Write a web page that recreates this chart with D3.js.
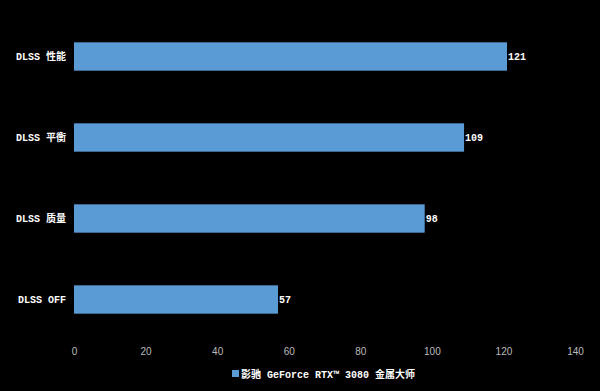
<!DOCTYPE html>
<html><head><meta charset="utf-8">
<script src="https://cdn.jsdelivr.net/npm/d3@7"></script>
<style>html,body{margin:0;padding:0;background:#000;}svg{display:block;}</style>
</head><body>
<svg id="c" width="600" height="391"></svg>
<script>
const categories = ["DLSS 性能", "DLSS 平衡", "DLSS 质量", "DLSS OFF"];
const values = [121, 109, 98, 57];
const xTicks = [0, 20, 40, 60, 80, 100, 120, 140];
const seriesName = "影驰 GeForce RTX™ 3080 金属大师";

const svg = d3.select("#c");
svg.append("rect").attr("width",600).attr("height",391).attr("fill","#000");
const x = d3.scaleLinear().domain([0,140]).range([74,575]);
const y = d3.scaleBand().domain(categories).range([16,340]).paddingInner(0.65).paddingOuter(0.325);
const color = "#5b9bd5";
const font = "'Liberation Mono', 'Noto Sans CJK SC', monospace";

svg.selectAll("rect.bar").data(values).enter().append("rect")
  .attr("class","bar")
  .attr("x", x(0))
  .attr("y", (d,i)=>y(categories[i]))
  .attr("width", d=>x(d)-x(0))
  .attr("height", y.bandwidth())
  .attr("fill", color);

svg.selectAll("text.val").data(values).enter().append("text")
  .attr("x", d=>x(d)+1)
  .attr("y", (d,i)=>y(categories[i])+y.bandwidth()/2)
  .attr("dy","0.35em")
  .attr("fill","#fff").attr("font-family",font).attr("font-weight","bold").attr("font-size",10)
  .text(d=>d);

const yAxis = d3.axisLeft(y).tickSize(0).tickPadding(8);
const ga = svg.append("g").attr("transform",`translate(${x(0)},0)`).call(yAxis);
ga.select(".domain").remove();
ga.selectAll("text").attr("fill","#fff").attr("font-family",font).attr("font-weight","bold").attr("font-size",10);

const xAxis = d3.axisBottom(x).tickValues(xTicks).tickSize(0).tickPadding(0);
const gx = svg.append("g").attr("transform","translate(0,348)").call(xAxis);
gx.select(".domain").remove();
gx.selectAll("text").attr("fill","#bbb").attr("font-family","'Liberation Sans', Arial, sans-serif").attr("font-size",10);

const lg = svg.append("g").attr("transform","translate(232,374)");
lg.append("rect").attr("x",0).attr("y",-4).attr("width",7).attr("height",7).attr("fill",color);
lg.append("text").attr("x",9).attr("y",0).attr("dy","0.35em")
  .attr("fill","#fff").attr("font-family",font).attr("font-weight","bold").attr("font-size",10)
  .text(seriesName);
</script>
</body></html>
